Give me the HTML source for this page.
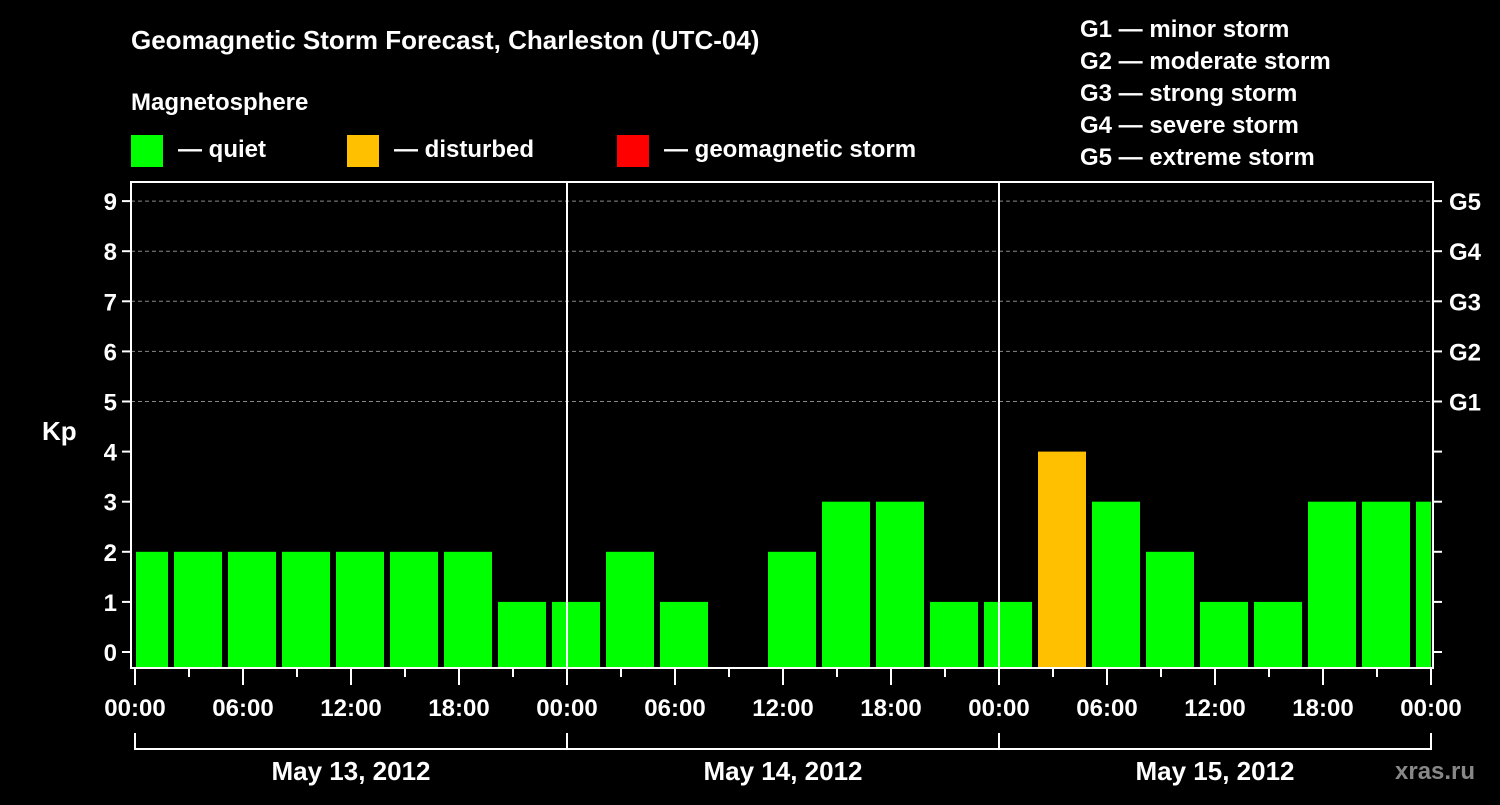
<!DOCTYPE html>
<html><head><meta charset="utf-8"><style>
body{margin:0;background:#000;width:1500px;height:800px;overflow:hidden}
svg{font-family:"Liberation Sans",sans-serif;font-weight:bold;fill:#fff}
</style></head><body>
<svg id="c" width="1500" height="800">
<text x="131" y="49" font-size="26">Geomagnetic Storm Forecast, Charleston (UTC-04)</text>
<text x="131" y="110" font-size="24">Magnetosphere</text>
<g><rect x="131" y="135" width="32" height="32" fill="#00ff00"/><text x="178" y="157" font-size="24">— quiet</text></g>
<g><rect x="347" y="135" width="32" height="32" fill="#ffc000"/><text x="394" y="157" font-size="24">— disturbed</text></g>
<g><rect x="617" y="135" width="32" height="32" fill="#ff0000"/><text x="664" y="157" font-size="24">— geomagnetic storm</text></g>
<g font-size="24">
<text x="1080" y="37">G1 — minor storm</text><text x="1080" y="69">G2 — moderate storm</text><text x="1080" y="101">G3 — strong storm</text><text x="1080" y="133">G4 — severe storm</text><text x="1080" y="165">G5 — extreme storm</text></g>
<text x="42" y="440" font-size="26">Kp</text>
<text x="1395" y="779" font-size="24" fill="#888" style="fill:#888">xras.ru</text>
<g id="grid"></g><g id="bars"></g><g id="axes"></g>
</svg>
<script>
const kpValues=[2,2,2,2,2,2,2,1,1,2,1,null,2,3,3,1,1,4,3,2,1,1,3,3,3];
const yTicks=[0,1,2,3,4,5,6,7,8,9];
const gLabels=["G1","G2","G3","G4","G5"];
const xLabels=["00:00","06:00","12:00","18:00"];
const dayLabels=["May 13, 2012","May 14, 2012","May 15, 2012"];
const NS="http://www.w3.org/2000/svg";
const L=131,R=1433,T=182,B=668,X0=135,PXH=18;
const y=v=>652-v*50.1;
const x=h=>X0+h*PXH;
function mk(tag,attrs,parent,txt){const e=document.createElementNS(NS,tag);for(const k in attrs)e.setAttribute(k,attrs[k]);if(txt!=null)e.textContent=txt;document.getElementById(parent).appendChild(e);return e;}
// grid
for(let v=5;v<=9;v++){const g=mk('line',{x1:L,x2:R,y1:y(v),y2:y(v),stroke:'#888','stroke-dasharray':'4,3'},'grid');

}
// bars
kpValues.forEach((v,k)=>{if(v==null)return;const c=x(0.5+3*k);let a=Math.max(c-24,L+5),b=Math.min(c+24,R-2);
const col=v>=5?'#ff0000':(v>=4?'#ffc000':'#00ff00');
const r=mk('rect',{x:a,y:y(v),width:b-a,height:B-y(v),fill:col},'bars');

});
// day separators
[1,2].forEach(d=>{const l=mk('line',{x1:x(24*d),x2:x(24*d),y1:T,y2:B,stroke:'#fff','stroke-width':2},'axes');

});
// frame
const f=mk('rect',{x:L,y:T,width:R-L,height:B-T,fill:'none',stroke:'#fff','stroke-width':2},'axes');


yTicks.forEach(v=>{mk('line',{x1:L-9,x2:L,y1:y(v),y2:y(v),stroke:'#fff','stroke-width':2},'axes');
mk('line',{x1:R,x2:R+9,y1:y(v),y2:y(v),stroke:'#fff','stroke-width':2},'axes');
const t=mk('text',{x:L-14,y:y(v)+9,'font-size':24,'text-anchor':'end'},'axes',v);

});
gLabels.forEach((g,i)=>{const t=mk('text',{x:1449,y:y(5+i)+9,'font-size':24},'axes',g);

});
for(let h=0;h<=72;h+=3){const maj=h%6==0;mk('line',{x1:x(h),x2:x(h),y1:B,y2:B+(maj?17:9),stroke:'#fff','stroke-width':2},'axes');}
for(let h=0;h<=72;h+=6){const t=mk('text',{x:x(h),y:716,'font-size':24,'text-anchor':'middle'},'axes',xLabels[(h/6)%4]);

}
mk('path',{d:`M${x(0)} 733V749H${x(72)}V733M${x(24)} 733V749M${x(48)} 733V749`,stroke:'#fff','stroke-width':2,fill:'none'},'axes');
dayLabels.forEach((d,i)=>{const t=mk('text',{x:x(24*i+12),y:780,'font-size':26,'text-anchor':'middle'},'axes',d);

});
</script>
</body></html>
